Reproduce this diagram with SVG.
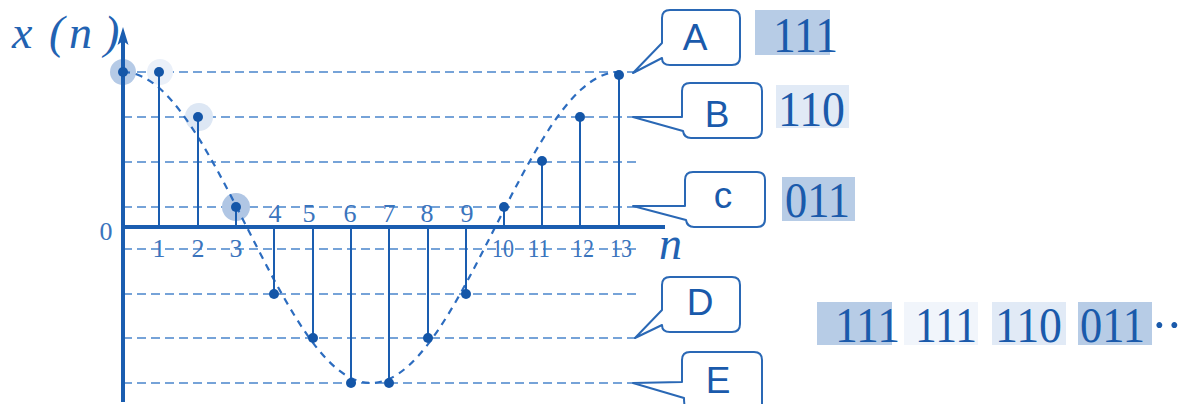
<svg xmlns="http://www.w3.org/2000/svg" width="1181" height="404" viewBox="0 0 1181 404">
<style>
.grid{stroke:#4a85cc;stroke-width:1.7;stroke-dasharray:9 5;fill:none}
.curve{stroke:#2c6cbf;stroke-width:2.2;stroke-dasharray:7 6;fill:none}
.axis{stroke:#1a5db0;stroke-width:4;fill:none}
.stem{stroke:#1a5db0;stroke-width:2}
.dot{fill:#1456a8}
.tick{font-family:"Liberation Serif",serif;font-size:26px;fill:#3a74bd;text-anchor:middle}
.callout{fill:#fff;stroke:#2a68b5;stroke-width:2;stroke-linejoin:round}
.clabel{font-family:"Liberation Sans",sans-serif;font-size:37px;fill:#1a5aab;text-anchor:middle}
.val{font-family:"Liberation Serif",serif;font-size:50px;fill:#1a5aab}
.hl1{fill:#b7cce6}
.hl2{fill:#e1eaf6}
.hl3{fill:#f1f5fb}
</style>
<rect width="1181" height="404" fill="#fff"/>
<g id="grid">
<line class="grid" x1="123" y1="72" x2="640" y2="72"/>
<line class="grid" x1="123" y1="117" x2="640" y2="117"/>
<line class="grid" x1="123" y1="162" x2="640" y2="162"/>
<line class="grid" x1="123" y1="207" x2="640" y2="207"/>
<line class="grid" x1="123" y1="249" x2="638" y2="249"/>
<line class="grid" x1="123" y1="294" x2="640" y2="294"/>
<line class="grid" x1="123" y1="338" x2="640" y2="338"/>
<line class="grid" x1="123" y1="383" x2="640" y2="383"/>
</g>
<g id="halos">
<circle cx="123" cy="72" r="13" fill="#b5cae6"/>
<circle cx="160" cy="72" r="13" fill="#eaf0f9"/>
<circle cx="199" cy="117" r="14" fill="#dde7f4"/>
<circle cx="236" cy="207" r="14" fill="#b0c6e4"/>
</g>
<g id="curve">
<path class="curve" d="M123,72 C135.7,72 148.5,78.2 161.2,89.8 C173.9,101.4 186.6,118.6 199.3,139.2 C212,159.8 224.8,183.9 237.5,208.8 C250.2,233.7 262.9,259.2 275.6,282.6 C288.3,306 301.1,327.3 313.8,343.9 C326.5,360.5 339.2,372.5 351.9,378.5 C364.6,384.5 377.4,384.5 390.1,378.5 C402.8,372.5 415.5,360.5 428.2,343.9 C440.9,327.3 453.7,306 466.4,282.6 C479.1,259.2 491.8,233.7 504.5,208.8 C517.2,183.9 530,159.8 542.7,139.2 C555.4,118.6 568.1,101.4 580.8,89.8 C593.5,78.2 606.3,72 619,72"/>
</g>
<g id="axes">
<line class="axis" x1="123" y1="36" x2="123" y2="402"/>
<polygon points="123,27 128.5,45 123,41 117.5,45" fill="#1a5db0"/>
<line class="axis" x1="121" y1="227" x2="665" y2="227"/>
</g>
<g id="stems">
<line class="stem" x1="159" y1="72" x2="159" y2="227"/>
<line class="stem" x1="198" y1="117" x2="198" y2="227"/>
<line class="stem" x1="236" y1="207" x2="236" y2="227"/>
<line class="stem" x1="274" y1="227" x2="274" y2="294"/>
<line class="stem" x1="313" y1="227" x2="313" y2="338"/>
<line class="stem" x1="351" y1="227" x2="351" y2="383"/>
<line class="stem" x1="389" y1="227" x2="389" y2="383"/>
<line class="stem" x1="428" y1="227" x2="428" y2="338"/>
<line class="stem" x1="466" y1="227" x2="466" y2="294"/>
<line class="stem" x1="504" y1="207" x2="504" y2="227"/>
<line class="stem" x1="542" y1="161" x2="542" y2="227"/>
<line class="stem" x1="580" y1="117" x2="580" y2="227"/>
<line class="stem" x1="619" y1="75" x2="619" y2="227"/>
</g>
<g id="dots">
<circle class="dot" cx="123" cy="72" r="5"/>
<circle class="dot" cx="159" cy="72" r="5"/>
<circle class="dot" cx="198" cy="117" r="5"/>
<circle class="dot" cx="236" cy="207" r="5"/>
<circle class="dot" cx="274" cy="294" r="5"/>
<circle class="dot" cx="313" cy="338" r="5"/>
<circle class="dot" cx="351" cy="383" r="5"/>
<circle class="dot" cx="389" cy="383" r="5"/>
<circle class="dot" cx="428" cy="338" r="5"/>
<circle class="dot" cx="466" cy="294" r="5"/>
<circle class="dot" cx="504" cy="207" r="5"/>
<circle class="dot" cx="542" cy="161" r="5"/>
<circle class="dot" cx="580" cy="117" r="5"/>
<circle class="dot" cx="619" cy="75" r="5"/>
</g>
<g id="labels">
<text x="12 49 69 104" y="48" font-family="'Liberation Serif',serif" font-style="italic" font-size="46" fill="#2262b2">x(n)</text>
<text x="659" y="259" font-family="'Liberation Serif',serif" font-style="italic" font-size="46" fill="#2262b2">n</text>
<text class="tick" x="106" y="240">0</text>
<text class="tick" x="159" y="257">1</text>
<text class="tick" x="198" y="257">2</text>
<text class="tick" x="236" y="257">3</text>
<text class="tick" x="275" y="222">4</text>
<text class="tick" x="309" y="222">5</text>
<text class="tick" x="350" y="222">6</text>
<text class="tick" x="389" y="222">7</text>
<text class="tick" x="427" y="222">8</text>
<text class="tick" x="467" y="222">9</text>
<text class="tick" x="503" y="257" textLength="22" lengthAdjust="spacingAndGlyphs">10</text>
<text class="tick" x="539" y="257" textLength="22" lengthAdjust="spacingAndGlyphs">11</text>
<text class="tick" x="583" y="257" textLength="22" lengthAdjust="spacingAndGlyphs">12</text>
<text class="tick" x="621" y="257" textLength="22" lengthAdjust="spacingAndGlyphs">13</text>
</g>
<g id="callout-A">
<path class="callout" d="M670,10 H732 Q740,10 740,18 V57 Q740,65 732,65 H670 Q662,65 662,58 L633,73 L662,43 V18 Q662,10 670,10 Z"/>
<text class="clabel" x="695" y="50">A</text>
</g>
<g id="callout-B">
<path class="callout" d="M690,83 H754 Q762,83 762,91 V130 Q762,138 754,138 H691 Q684,138 683,131 L633,117 L682,117 V91 Q682,83 690,83 Z"/>
<text class="clabel" x="717" y="127">B</text>
</g>
<g id="callout-C">
<path class="callout" d="M693,172 H757 Q765,172 765,180 V219 Q765,227 757,227 H694 Q687,227 686,220 L633,206 L685,206 V180 Q685,172 693,172 Z"/>
<text class="clabel" x="723" y="208">c</text>
</g>
<g id="callout-D">
<path class="callout" d="M670,277 H732 Q740,277 740,285 V324 Q740,332 732,332 H670 Q662,332 662,325 L635,338 L662,310 V285 Q662,277 670,277 Z"/>
<text class="clabel" x="700" y="315">D</text>
</g>
<g id="callout-E">
<path class="callout" d="M690,352 H754 Q762,352 762,360 V412 H690 Q684,412 684,398 L633,383 L682,382 V360 Q682,352 690,352 Z"/>
<text class="clabel" x="718" y="393">E</text>
</g>
<g id="values">
<rect class="hl1" x="755" y="10" width="75" height="45"/>
<text class="val" x="773" y="52" textLength="65" lengthAdjust="spacingAndGlyphs">111</text>
<rect class="hl2" x="776" y="85" width="73" height="43"/>
<text class="val" x="778" y="126" textLength="67" lengthAdjust="spacingAndGlyphs">110</text>
<rect class="hl1" x="782" y="177" width="73" height="44"/>
<text class="val" x="785" y="217" textLength="65" lengthAdjust="spacingAndGlyphs">011</text>
</g>
<g id="sequence">
<rect class="hl1" x="817" y="302" width="75" height="43"/>
<rect class="hl3" x="904" y="302" width="74" height="43"/>
<rect class="hl2" x="992" y="302" width="74" height="43"/>
<rect class="hl1" x="1078" y="302" width="74" height="43"/>
<text class="val" x="835" y="342" textLength="65" lengthAdjust="spacingAndGlyphs">111</text>
<text class="val" x="915" y="342" textLength="62" lengthAdjust="spacingAndGlyphs">111</text>
<text class="val" x="995" y="342" textLength="67" lengthAdjust="spacingAndGlyphs">110</text>
<text class="val" x="1080" y="342" textLength="65" lengthAdjust="spacingAndGlyphs">011</text>
<text class="val" x="1151 1166" y="342">··</text>
</g>
</svg>
